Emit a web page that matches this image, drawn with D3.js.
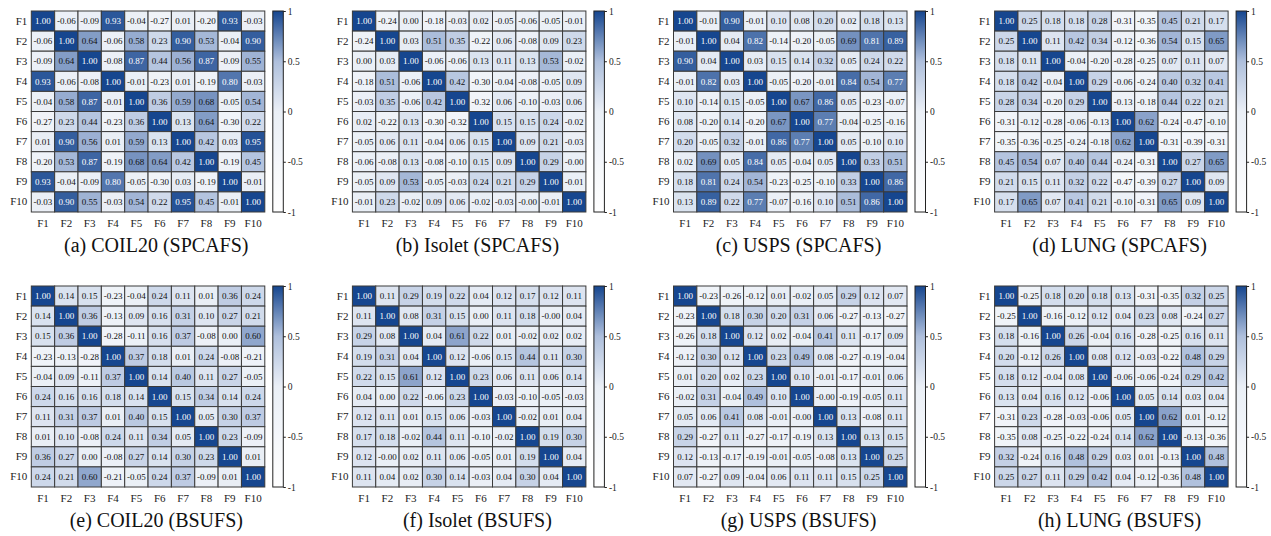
<!DOCTYPE html>
<html>
<head>
<meta charset="utf-8">
<script src="https://cdn.jsdelivr.net/npm/d3@7"></script>
<style>
  body { margin: 0; background: #fff; }
  svg { display: block; }
  svg text { font-family: "Liberation Serif", "DejaVu Serif", serif; }
</style>
</head>
<body>
<div id="chart"></div>
<script>
// feature labels shared by every matrix
const features = ["F1", "F2", "F3", "F4", "F5", "F6", "F7", "F8", "F9", "F10"];

const titles = [
    "(a) COIL20 (SPCAFS)", "(b) Isolet (SPCAFS)", "(c) USPS (SPCAFS)", "(d) LUNG (SPCAFS)",
    "(e) COIL20 (BSUFS)", "(f) Isolet (BSUFS)", "(g) USPS (BSUFS)", "(h) LUNG (BSUFS)"
];

const colorbarTicks = [1, 0.5, 0, -0.5, -1];

const coil20Spcafs = [
    [1.00, -0.06, -0.09, 0.93, -0.04, -0.27, 0.01, -0.20, 0.93, -0.03],
    [-0.06, 1.00, 0.64, -0.06, 0.58, 0.23, 0.90, 0.53, -0.04, 0.90],
    [-0.09, 0.64, 1.00, -0.08, 0.87, 0.44, 0.56, 0.87, -0.09, 0.55],
    [0.93, -0.06, -0.08, 1.00, -0.01, -0.23, 0.01, -0.19, 0.80, -0.03],
    [-0.04, 0.58, 0.87, -0.01, 1.00, 0.36, 0.59, 0.68, -0.05, 0.54],
    [-0.27, 0.23, 0.44, -0.23, 0.36, 1.00, 0.13, 0.64, -0.30, 0.22],
    [0.01, 0.90, 0.56, 0.01, 0.59, 0.13, 1.00, 0.42, 0.03, 0.95],
    [-0.20, 0.53, 0.87, -0.19, 0.68, 0.64, 0.42, 1.00, -0.19, 0.45],
    [0.93, -0.04, -0.09, 0.80, -0.05, -0.30, 0.03, -0.19, 1.00, -0.01],
    [-0.03, 0.90, 0.55, -0.03, 0.54, 0.22, 0.95, 0.45, -0.01, 1.00]
];

const isoletSpcafs = [
    [1.00, -0.24, 0.00, -0.18, -0.03, 0.02, -0.05, -0.06, -0.05, -0.01],
    [-0.24, 1.00, 0.03, 0.51, 0.35, -0.22, 0.06, -0.08, 0.09, 0.23],
    [0.00, 0.03, 1.00, -0.06, -0.06, 0.13, 0.11, 0.13, 0.53, -0.02],
    [-0.18, 0.51, -0.06, 1.00, 0.42, -0.30, -0.04, -0.08, -0.05, 0.09],
    [-0.03, 0.35, -0.06, 0.42, 1.00, -0.32, 0.06, -0.10, -0.03, 0.06],
    [0.02, -0.22, 0.13, -0.30, -0.32, 1.00, 0.15, 0.15, 0.24, -0.02],
    [-0.05, 0.06, 0.11, -0.04, 0.06, 0.15, 1.00, 0.09, 0.21, -0.03],
    [-0.06, -0.08, 0.13, -0.08, -0.10, 0.15, 0.09, 1.00, 0.29, -0.00],
    [-0.05, 0.09, 0.53, -0.05, -0.03, 0.24, 0.21, 0.29, 1.00, -0.01],
    [-0.01, 0.23, -0.02, 0.09, 0.06, -0.02, -0.03, -0.00, -0.01, 1.00]
];

const uspsSpcafs = [
    [1.00, -0.01, 0.90, -0.01, 0.10, 0.08, 0.20, 0.02, 0.18, 0.13],
    [-0.01, 1.00, 0.04, 0.82, -0.14, -0.20, -0.05, 0.69, 0.81, 0.89],
    [0.90, 0.04, 1.00, 0.03, 0.15, 0.14, 0.32, 0.05, 0.24, 0.22],
    [-0.01, 0.82, 0.03, 1.00, -0.05, -0.20, -0.01, 0.84, 0.54, 0.77],
    [0.10, -0.14, 0.15, -0.05, 1.00, 0.67, 0.86, 0.05, -0.23, -0.07],
    [0.08, -0.20, 0.14, -0.20, 0.67, 1.00, 0.77, -0.04, -0.25, -0.16],
    [0.20, -0.05, 0.32, -0.01, 0.86, 0.77, 1.00, 0.05, -0.10, 0.10],
    [0.02, 0.69, 0.05, 0.84, 0.05, -0.04, 0.05, 1.00, 0.33, 0.51],
    [0.18, 0.81, 0.24, 0.54, -0.23, -0.25, -0.10, 0.33, 1.00, 0.86],
    [0.13, 0.89, 0.22, 0.77, -0.07, -0.16, 0.10, 0.51, 0.86, 1.00]
];

const lungSpcafs = [
    [1.00, 0.25, 0.18, 0.18, 0.28, -0.31, -0.35, 0.45, 0.21, 0.17],
    [0.25, 1.00, 0.11, 0.42, 0.34, -0.12, -0.36, 0.54, 0.15, 0.65],
    [0.18, 0.11, 1.00, -0.04, -0.20, -0.28, -0.25, 0.07, 0.11, 0.07],
    [0.18, 0.42, -0.04, 1.00, 0.29, -0.06, -0.24, 0.40, 0.32, 0.41],
    [0.28, 0.34, -0.20, 0.29, 1.00, -0.13, -0.18, 0.44, 0.22, 0.21],
    [-0.31, -0.12, -0.28, -0.06, -0.13, 1.00, 0.62, -0.24, -0.47, -0.10],
    [-0.35, -0.36, -0.25, -0.24, -0.18, 0.62, 1.00, -0.31, -0.39, -0.31],
    [0.45, 0.54, 0.07, 0.40, 0.44, -0.24, -0.31, 1.00, 0.27, 0.65],
    [0.21, 0.15, 0.11, 0.32, 0.22, -0.47, -0.39, 0.27, 1.00, 0.09],
    [0.17, 0.65, 0.07, 0.41, 0.21, -0.10, -0.31, 0.65, 0.09, 1.00]
];

const coil20Bsufs = [
    [1.00, 0.14, 0.15, -0.23, -0.04, 0.24, 0.11, 0.01, 0.36, 0.24],
    [0.14, 1.00, 0.36, -0.13, 0.09, 0.16, 0.31, 0.10, 0.27, 0.21],
    [0.15, 0.36, 1.00, -0.28, -0.11, 0.16, 0.37, -0.08, 0.00, 0.60],
    [-0.23, -0.13, -0.28, 1.00, 0.37, 0.18, 0.01, 0.24, -0.08, -0.21],
    [-0.04, 0.09, -0.11, 0.37, 1.00, 0.14, 0.40, 0.11, 0.27, -0.05],
    [0.24, 0.16, 0.16, 0.18, 0.14, 1.00, 0.15, 0.34, 0.14, 0.24],
    [0.11, 0.31, 0.37, 0.01, 0.40, 0.15, 1.00, 0.05, 0.30, 0.37],
    [0.01, 0.10, -0.08, 0.24, 0.11, 0.34, 0.05, 1.00, 0.23, -0.09],
    [0.36, 0.27, 0.00, -0.08, 0.27, 0.14, 0.30, 0.23, 1.00, 0.01],
    [0.24, 0.21, 0.60, -0.21, -0.05, 0.24, 0.37, -0.09, 0.01, 1.00]
];

const isoletBsufs = [
    [1.00, 0.11, 0.29, 0.19, 0.22, 0.04, 0.12, 0.17, 0.12, 0.11],
    [0.11, 1.00, 0.08, 0.31, 0.15, 0.00, 0.11, 0.18, -0.00, 0.04],
    [0.29, 0.08, 1.00, 0.04, 0.61, 0.22, 0.01, -0.02, 0.02, 0.02],
    [0.19, 0.31, 0.04, 1.00, 0.12, -0.06, 0.15, 0.44, 0.11, 0.30],
    [0.22, 0.15, 0.61, 0.12, 1.00, 0.23, 0.06, 0.11, 0.06, 0.14],
    [0.04, 0.00, 0.22, -0.06, 0.23, 1.00, -0.03, -0.10, -0.05, -0.03],
    [0.12, 0.11, 0.01, 0.15, 0.06, -0.03, 1.00, -0.02, 0.01, 0.04],
    [0.17, 0.18, -0.02, 0.44, 0.11, -0.10, -0.02, 1.00, 0.19, 0.30],
    [0.12, -0.00, 0.02, 0.11, 0.06, -0.05, 0.01, 0.19, 1.00, 0.04],
    [0.11, 0.04, 0.02, 0.30, 0.14, -0.03, 0.04, 0.30, 0.04, 1.00]
];

const uspsBsufs = [
    [1.00, -0.23, -0.26, -0.12, 0.01, -0.02, 0.05, 0.29, 0.12, 0.07],
    [-0.23, 1.00, 0.18, 0.30, 0.20, 0.31, 0.06, -0.27, -0.13, -0.27],
    [-0.26, 0.18, 1.00, 0.12, 0.02, -0.04, 0.41, 0.11, -0.17, 0.09],
    [-0.12, 0.30, 0.12, 1.00, 0.23, 0.49, 0.08, -0.27, -0.19, -0.04],
    [0.01, 0.20, 0.02, 0.23, 1.00, 0.10, -0.01, -0.17, -0.01, 0.06],
    [-0.02, 0.31, -0.04, 0.49, 0.10, 1.00, -0.00, -0.19, -0.05, 0.11],
    [0.05, 0.06, 0.41, 0.08, -0.01, -0.00, 1.00, 0.13, -0.08, 0.11],
    [0.29, -0.27, 0.11, -0.27, -0.17, -0.19, 0.13, 1.00, 0.13, 0.15],
    [0.12, -0.13, -0.17, -0.19, -0.01, -0.05, -0.08, 0.13, 1.00, 0.25],
    [0.07, -0.27, 0.09, -0.04, 0.06, 0.11, 0.11, 0.15, 0.25, 1.00]
];

const lungBsufs = [
    [1.00, -0.25, 0.18, 0.20, 0.18, 0.13, -0.31, -0.35, 0.32, 0.25],
    [-0.25, 1.00, -0.16, -0.12, 0.12, 0.04, 0.23, 0.08, -0.24, 0.27],
    [0.18, -0.16, 1.00, 0.26, -0.04, 0.16, -0.28, -0.25, 0.16, 0.11],
    [0.20, -0.12, 0.26, 1.00, 0.08, 0.12, -0.03, -0.22, 0.48, 0.29],
    [0.18, 0.12, -0.04, 0.08, 1.00, -0.06, -0.06, -0.24, 0.29, 0.42],
    [0.13, 0.04, 0.16, 0.12, -0.06, 1.00, 0.05, 0.14, 0.03, 0.04],
    [-0.31, 0.23, -0.28, -0.03, -0.06, 0.05, 1.00, 0.62, 0.01, -0.12],
    [-0.35, 0.08, -0.25, -0.22, -0.24, 0.14, 0.62, 1.00, -0.13, -0.36],
    [0.32, -0.24, 0.16, 0.48, 0.29, 0.03, 0.01, -0.13, 1.00, 0.48],
    [0.25, 0.27, 0.11, 0.29, 0.42, 0.04, -0.12, -0.36, 0.48, 1.00]
];

const matrices = [coil20Spcafs, isoletSpcafs, uspsSpcafs, lungSpcafs,
                  coil20Bsufs, isoletBsufs, uspsBsufs, lungBsufs];

const W = 1271, H = 536;
const panelLeft = 31.3, panelStep = 321.1;
const rowTops = [11, 286];
const mw = 233.5, mh = 201;
const serif = "'Liberation Serif', 'DejaVu Serif', serif";

// white -> pale -> dark blue, like the reference colorbar
const color = d3.scaleLinear()
    .domain([-1, 0, 0.5, 1])
    .range(["#ffffff", "#eaeff6", "#aebfdc", "#16468f"]);

// keep ascii hyphen and the "-0.00" cells
function fmt(v) {
    if (Object.is(v, -0)) return "-0.00";
    return v.toFixed(2);
}
function tickFmt(v) {
    return String(v);
}

const svg = d3.select("#chart").append("svg")
    .attr("width", W)
    .attr("height", H);

svg.append("rect").attr("width", W).attr("height", H).attr("fill", "#fff");

const defs = svg.append("defs");
const grad = defs.append("linearGradient")
    .attr("id", "cbar")
    .attr("x1", 0).attr("y1", 1).attr("x2", 0).attr("y2", 0);
d3.range(0, 1.0001, 0.05).forEach(t => {
    grad.append("stop")
        .attr("offset", t)
        .attr("stop-color", color(-1 + 2 * t));
});

matrices.forEach((m, i) => {
    const col = i % 4, row = Math.floor(i / 4);
    const g = svg.append("g")
        .attr("font-family", serif)
        .attr("transform", `translate(${panelLeft + col * panelStep},${rowTops[row]})`);

    const x = d3.scaleBand().domain(features).range([0, mw]);
    const y = d3.scaleBand().domain(features).range([0, mh]);

    const cells = [];
    m.forEach((r, ri) => r.forEach((v, ci) => cells.push({ r: features[ri], c: features[ci], v: v })));

    g.selectAll("rect.cell")
        .data(cells)
        .join("rect")
        .attr("class", "cell")
        .attr("x", d => x(d.c))
        .attr("y", d => y(d.r))
        .attr("width", x.bandwidth())
        .attr("height", y.bandwidth())
        .attr("fill", d => color(d.v))
        .attr("stroke", "#3a3a3a")
        .attr("stroke-width", 1);

    g.selectAll("text.val")
        .data(cells)
        .join("text")
        .attr("class", "val")
        .attr("x", d => x(d.c) + x.bandwidth() / 2)
        .attr("y", d => y(d.r) + y.bandwidth() / 2)
        .attr("dy", "0.35em")
        .attr("text-anchor", "middle")
        .attr("font-size", 9)
        .attr("fill", d => d.v > 0.7 ? "#fff" : "#111")
        .text(d => fmt(d.v));

    // axes
    const yAxis = g.append("g")
        .call(d3.axisLeft(y).tickSize(0).tickPadding(4))
        .attr("font-family", serif)
        .attr("font-size", 11);
    yAxis.select(".domain").remove();
    yAxis.selectAll("text").attr("fill", "#222");

    const xAxis = g.append("g")
        .attr("transform", `translate(0,${mh})`)
        .call(d3.axisBottom(x).tickSize(0).tickPadding(7))
        .attr("font-family", serif)
        .attr("font-size", 11);
    xAxis.select(".domain").remove();
    xAxis.selectAll("text").attr("fill", "#222");

    // colorbar
    const cb = g.append("g").attr("transform", `translate(${mw + 8},0)`);
    cb.append("rect")
        .attr("width", 10.5)
        .attr("height", mh)
        .attr("fill", "url(#cbar)")
        .attr("stroke", "#222")
        .attr("stroke-width", 1);
    const cScale = d3.scaleLinear().domain([-1, 1]).range([mh, 0]);
    const cAxis = cb.append("g")
        .attr("transform", "translate(10.5,0)")
        .call(d3.axisRight(cScale).tickValues(colorbarTicks).tickFormat(tickFmt).tickSize(2.5).tickPadding(2))
        .attr("font-family", serif)
        .attr("font-size", 9.5);
    cAxis.select(".domain").remove();
    cAxis.selectAll("line").attr("stroke", "#222");
    cAxis.selectAll("text").attr("fill", "#222");

    // subfigure caption
    g.append("text")
        .attr("x", 125)
        .attr("y", mh + 40)
        .attr("text-anchor", "middle")
        .attr("font-size", 20)
        .attr("fill", "#111")
        .text(titles[i]);
});
</script>
</body>
</html>
